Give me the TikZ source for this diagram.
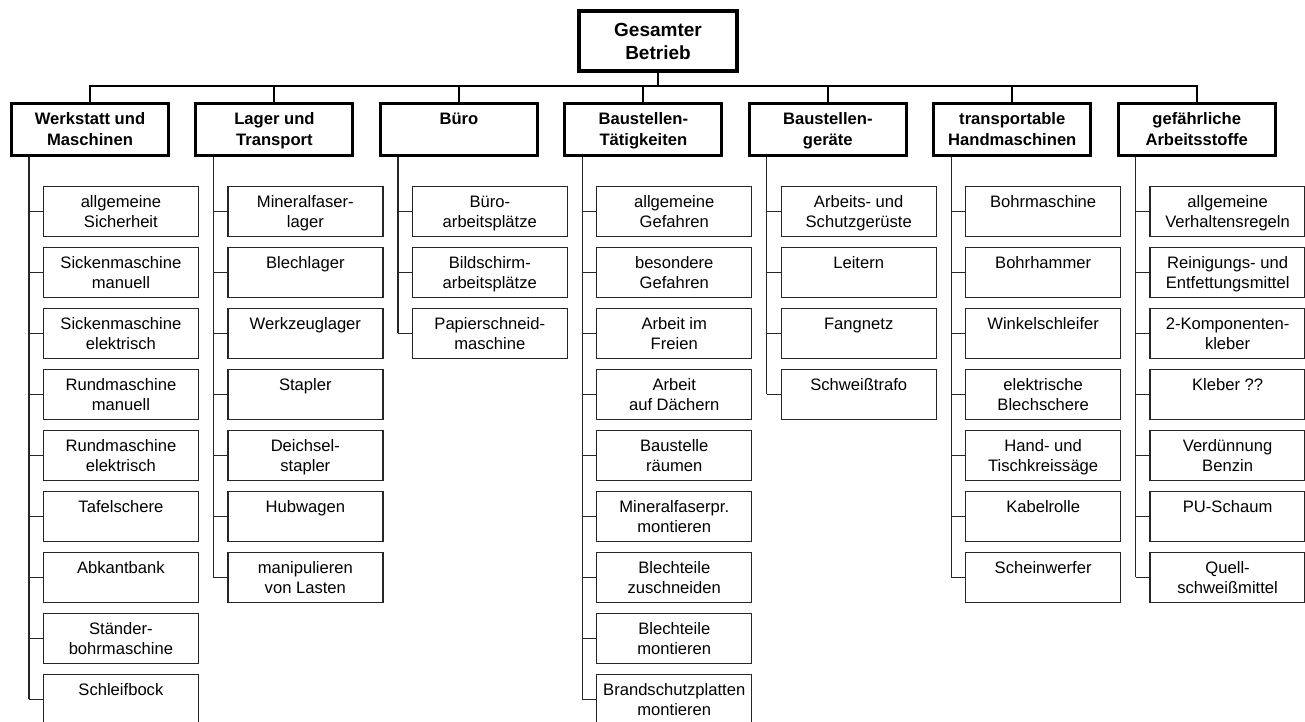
\documentclass[tikz,border=0pt]{standalone}
\usepackage{fontspec}
\setmainfont{Liberation Sans}
\newcommand\kidtxt[2]{\rule{0pt}{18.8pt}#1\\#2\rule[-6pt]{0pt}{6pt}}
\newcommand\leveltxt[2]{\rule{0pt}{17.2pt}#1\\#2\rule[-6pt]{0pt}{6pt}}
\newcommand\toptxt[2]{\rule{0pt}{20.1pt}#1\\#2\rule[-6pt]{0pt}{6pt}}
\tikzset{
  topbox/.style={draw=black, line width=4pt, rectangle, inner sep=0pt,
    minimum width=158pt, minimum height=59.4pt, align=center,
    font=\fontsize{19}{22.7}\selectfont\bfseries},
  levelbox/.style={draw=black, line width=3pt, rectangle, inner sep=0pt,
    minimum width=157pt, minimum height=52pt, align=center,
    font=\fontsize{16.6}{21}\selectfont\bfseries},
  kidbox/.style={draw=black!85, line width=1.3pt, rectangle, inner sep=0pt,
    minimum width=155pt, minimum height=50pt, align=center,
    font=\fontsize{16.6}{20}\selectfont},
  busline/.style={draw=black, line width=2pt},
  trunkline/.style={draw=black!85, line width=1.3pt},
}
\newcommand\kid[4]{%
  \pgfmathsetmacro\kx{90+184.45*#1+30.9}%
  \pgfmathsetmacro\ky{211.3+61*#2}%
  \node[kidbox] (k#1-#2) at (\kx,\ky) {\kidtxt{#3}{#4}};
  \draw[trunkline] (k#1-#2.west) -- (k#1-#2.west -| tr#1);
}
\newcommand\lev[3]{%
  \pgfmathsetmacro\lx{90+184.45*#1}%
  \node[levelbox] (L#1) at (\lx,129.2) {\leveltxt{#2}{#3}};
  \coordinate (tr#1) at ([xshift=-61pt]L#1.south);
}
\begin{document}
\begin{tikzpicture}[x=1pt,y=-1pt]
\useasboundingbox (0,0) rectangle (1305,722);
\node[topbox] (top) at (658,41) {\toptxt{Gesamter}{Betrieb}};
\lev{0}{Werkstatt und}{Maschinen}
\lev{1}{Lager und}{Transport}
\lev{2}{Büro}{}
\lev{3}{Baustellen-}{Tätigkeiten}
\lev{4}{Baustellen-}{geräte}
\lev{5}{transportable}{Handmaschinen}
\lev{6}{gefährliche}{Arbeitsstoffe}
\coordinate (bus) at (0,86);
\draw[busline] (L0.north) -- (L0.north |- bus) -- (L6.north |- bus) -- (L6.north);
\draw[busline] (top.south) -- (top.south |- bus);
\foreach \i in {1,...,5} {\draw[busline] (L\i.north) -- (L\i.north |- bus);}
% Werkstatt
\kid{0}{0}{allgemeine}{Sicherheit}
\kid{0}{1}{Sickenmaschine}{manuell}
\kid{0}{2}{Sickenmaschine}{elektrisch}
\kid{0}{3}{Rundmaschine}{manuell}
\kid{0}{4}{Rundmaschine}{elektrisch}
\kid{0}{5}{Tafelschere}{}
\kid{0}{6}{Abkantbank}{}
\kid{0}{7}{Ständer-}{bohrmaschine}
\kid{0}{8}{Schleifbock}{}
\draw[trunkline] (tr0) -- (k0-8.west -| tr0);
% Lager
\kid{1}{0}{Mineralfaser-}{lager}
\kid{1}{1}{Blechlager}{}
\kid{1}{2}{Werkzeuglager}{}
\kid{1}{3}{Stapler}{}
\kid{1}{4}{Deichsel-}{stapler}
\kid{1}{5}{Hubwagen}{}
\kid{1}{6}{manipulieren}{von Lasten}
\draw[trunkline] (tr1) -- (k1-6.west -| tr1);
% Buero
\kid{2}{0}{Büro-}{arbeitsplätze}
\kid{2}{1}{Bildschirm-}{arbeitsplätze}
\kid{2}{2}{Papierschneid-}{maschine}
\draw[trunkline] (tr2) -- (k2-2.west -| tr2);
% Baustellen-Taetigkeiten
\kid{3}{0}{allgemeine}{Gefahren}
\kid{3}{1}{besondere}{Gefahren}
\kid{3}{2}{Arbeit im}{Freien}
\kid{3}{3}{Arbeit}{auf Dächern}
\kid{3}{4}{Baustelle}{räumen}
\kid{3}{5}{Mineralfaserpr.}{montieren}
\kid{3}{6}{Blechteile}{zuschneiden}
\kid{3}{7}{Blechteile}{montieren}
\kid{3}{8}{Brandschutzplatten}{montieren}
\draw[trunkline] (tr3) -- (k3-8.west -| tr3);
% Baustellengeraete
\kid{4}{0}{Arbeits- und}{Schutzgerüste}
\kid{4}{1}{Leitern}{}
\kid{4}{2}{Fangnetz}{}
\kid{4}{3}{Schweißtrafo}{}
\draw[trunkline] (tr4) -- (k4-3.west -| tr4);
% transportable Handmaschinen
\kid{5}{0}{Bohrmaschine}{}
\kid{5}{1}{Bohrhammer}{}
\kid{5}{2}{Winkelschleifer}{}
\kid{5}{3}{elektrische}{Blechschere}
\kid{5}{4}{Hand- und}{Tischkreissäge}
\kid{5}{5}{Kabelrolle}{}
\kid{5}{6}{Scheinwerfer}{}
\draw[trunkline] (tr5) -- (k5-6.west -| tr5);
% gefaehrliche Arbeitsstoffe
\kid{6}{0}{allgemeine}{Verhaltensregeln}
\kid{6}{1}{Reinigungs- und}{Entfettungsmittel}
\kid{6}{2}{2-Komponenten-}{kleber}
\kid{6}{3}{Kleber ??}{}
\kid{6}{4}{Verdünnung}{Benzin}
\kid{6}{5}{PU-Schaum}{}
\kid{6}{6}{Quell-}{schweißmittel}
\draw[trunkline] (tr6) -- (k6-6.west -| tr6);
\end{tikzpicture}
\end{document}
